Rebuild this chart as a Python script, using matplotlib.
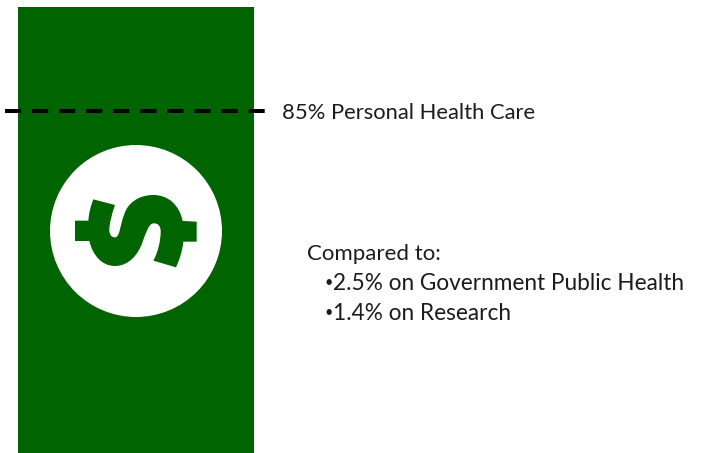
import matplotlib
matplotlib.use("Agg")
import matplotlib.pyplot as plt
from matplotlib.patches import Circle, PathPatch, Rectangle
from matplotlib.path import Path

# share of spending named in the picture
main_label = "85% Personal Health Care"
compare_title = "Compared to:"
compare_items = ["2.5% on Government Public Health", "1.4% on Research"]

GREEN = "#006400"
INK = "#1c1c1c"

plt.rcParams["font.family"] = ["Lato", "DejaVu Sans"]

fig = plt.figure(figsize=(7.01, 4.53), dpi=100)
ax = fig.add_axes([0, 0, 1, 1])
# axes in picture pixels, y going down
ax.set_xlim(0, 701)
ax.set_ylim(453, 0)
ax.axis("off")

ax.add_patch(Rectangle((18, 7), 236, 446, fc=GREEN, ec="none"))
ax.add_patch(Circle((136, 231), 86, fc="white", ec="none"))


# dollar sign outline, measured on a 3x crop starting at (40, 140)
def z(x, y):
    return (40 + x / 3, 140 + y / 3)


M, L, C = Path.MOVETO, Path.LINETO, Path.CURVE4
outline = [
    (M, (160, 178)), (L, (225, 195)),
    (C, (215, 225)), (C, (208, 250)), (C, (208, 270)),
    (C, (208, 285)), (C, (215, 292)), (C, (225, 292)),
    (C, (240, 292)), (C, (240, 255)), (C, (252, 225)),
    (C, (262, 190)), (C, (295, 165)), (C, (340, 165)),
    (C, (385, 165)), (C, (418, 195)), (C, (428, 243)),
    (L, (470, 245)), (L, (470, 305)), (L, (430, 305)),
    (C, (427, 335)), (C, (418, 360)), (C, (408, 382)),
    (L, (340, 362)),
    (C, (355, 335)), (C, (362, 300)), (C, (362, 275)),
    (C, (362, 258)), (C, (355, 250)), (C, (342, 250)),
    (C, (325, 250)), (C, (318, 280)), (C, (308, 305)),
    (C, (295, 345)), (C, (265, 378)), (C, (225, 378)),
    (C, (185, 378)), (C, (158, 345)), (C, (148, 303)),
    (L, (105, 303)), (L, (105, 242)), (L, (145, 242)),
    (C, (147, 218)), (C, (152, 198)), (C, (160, 178)),
]
codes = [c for c, _ in outline]
verts = [z(*p) for _, p in outline]
ax.add_patch(PathPatch(Path(verts, codes), fc=GREEN, ec="none"))

ax.plot([5, 265], [111, 111], color="black", lw=2.9, dashes=(4.0, 2.72),
        dash_capstyle="butt")

ax.text(282, 113, main_label, fontsize=15.8, va="center", color=INK)
ax.text(307, 254, compare_title, fontsize=16, va="center", color=INK)
for item, y in zip(compare_items, [284, 314]):
    ax.text(324, y - 1, "•", fontsize=10.5, va="center", color=INK)
    ax.text(333, y, item, fontsize=16.3, va="center", color=INK)

fig.savefig("out.png", dpi=100, facecolor="white")
